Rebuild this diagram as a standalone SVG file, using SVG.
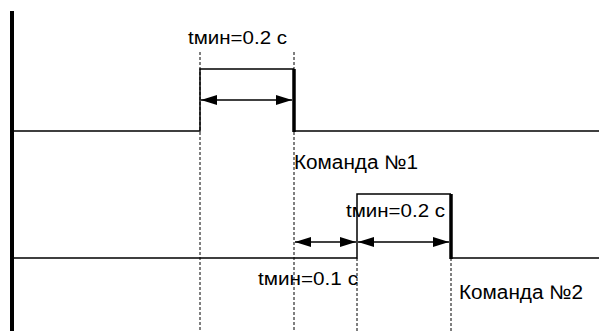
<svg xmlns="http://www.w3.org/2000/svg" width="599" height="331" viewBox="0 0 599 331">
<style>
.sig{fill:none;stroke:#000;stroke-width:1.5}
.thick{stroke:#000;stroke-width:3.5}
.dash{stroke:#000;stroke-width:1;stroke-dasharray:3,2}
.dim{stroke:#000;stroke-width:1.3}
.lbl{font-family:"Liberation Sans",Arial,sans-serif;fill:#000}
.t{font-size:18px}
.k{font-size:19.5px}
</style>
<defs>
<marker id="ah" viewBox="0 0 16 10" refX="16" refY="5" markerWidth="16" markerHeight="10" markerUnits="userSpaceOnUse" orient="auto-start-reverse">
<path d="M0,0 L16,5 L0,10 Z" fill="#000"/>
</marker>
</defs>
<rect id="axis" x="10" y="11" width="4" height="320" fill="#000"/>
<g id="guides">
<line class="dash" x1="200" y1="52" x2="200" y2="331"/>
<line class="dash" x1="294" y1="52" x2="294" y2="331"/>
<line class="dash" x1="357" y1="258" x2="357" y2="331"/>
<line class="dash" x1="451" y1="258" x2="451" y2="331"/>
</g>
<g id="signal1">
<polyline class="sig" points="12,131 200,131 200,69 294,69"/>
<line class="sig" x1="294" y1="131" x2="599" y2="131"/>
<line class="thick" x1="294" y1="69" x2="294" y2="132"/>
</g>
<g id="signal2">
<polyline class="sig" points="12,258 357,258 357,194 451,194"/>
<line class="sig" x1="451" y1="258" x2="599" y2="258"/>
<line class="thick" x1="451" y1="194" x2="451" y2="259"/>
</g>
<g id="connectors">
<line class="dim" x1="201" y1="100" x2="292" y2="100" marker-start="url(#ah)" marker-end="url(#ah)"/>
<line class="dim" x1="295" y1="242" x2="356" y2="242" marker-start="url(#ah)" marker-end="url(#ah)"/>
<line class="dim" x1="358" y1="242" x2="449" y2="242" marker-start="url(#ah)" marker-end="url(#ah)"/>
</g>
<g id="labels">
<text class="lbl t" x="188" y="44" textLength="99" lengthAdjust="spacingAndGlyphs">tмин=0.2 с</text>
<text class="lbl k" x="294" y="169" textLength="124" lengthAdjust="spacingAndGlyphs">Команда №1</text>
<text class="lbl t" x="346" y="217" textLength="99" lengthAdjust="spacingAndGlyphs">tмин=0.2 с</text>
<text class="lbl t" x="258" y="285" textLength="100" lengthAdjust="spacingAndGlyphs">tмин=0.1 с</text>
<text class="lbl k" x="459" y="299" textLength="124" lengthAdjust="spacingAndGlyphs">Команда №2</text>
</g>
</svg>
